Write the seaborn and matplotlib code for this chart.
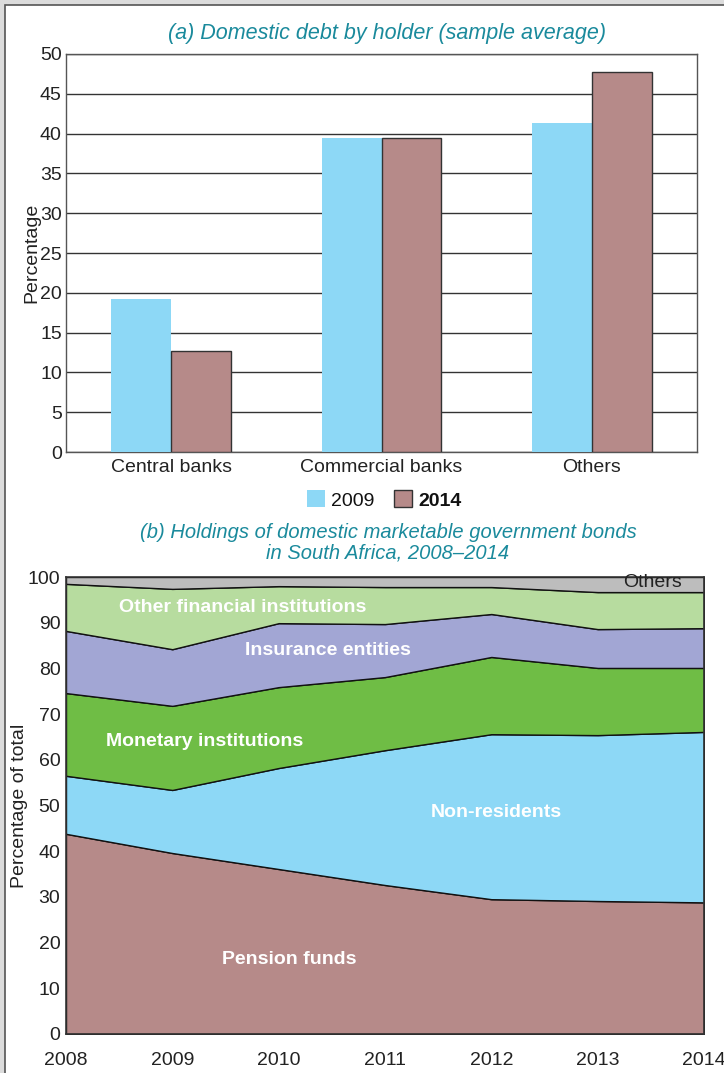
import matplotlib
matplotlib.use("Agg")
import matplotlib.pyplot as plt
from matplotlib.patches import Rectangle, Patch
import seaborn as sns
import pandas as pd

# ---- Data ----
holders = ["Central banks", "Commercial banks", "Others"]
share_2009 = [19.2, 39.4, 41.3]
share_2014 = [12.7, 39.4, 47.8]
bar_years = ["2009", "2014"]
ytick_a = [0, 5, 10, 15, 20, 25, 30, 35, 40, 45, 50]

years = [2008, 2009, 2010, 2011, 2012, 2013, 2014]
pension_funds = [43.8, 39.6, 36.1, 32.6, 29.5, 29.1, 28.8]
non_residents = [12.7, 13.8, 22.1, 29.5, 36.1, 36.3, 37.3]
monetary_inst = [18.1, 18.4, 17.7, 16.0, 16.9, 14.7, 14.0]
insurance = [13.6, 12.4, 14.0, 11.6, 9.4, 8.5, 8.7]
other_fin = [10.3, 13.2, 8.1, 8.1, 5.9, 8.1, 7.9]
others = [1.5, 2.6, 2.0, 2.2, 2.2, 3.3, 3.3]
series_names = ["Pension funds", "Non-residents", "Monetary institutions",
                "Insurance entities", "Other financial institutions", "Others"]
ytick_b = [0, 10, 20, 30, 40, 50, 60, 70, 80, 90, 100]

# ---- Style ----
sns.set_theme(style="white")
plt.rcParams["font.family"] = ["Liberation Sans", "DejaVu Sans"]

c_blue = "#8DD8F6"
c_rose = "#B68A89"
c_green = "#6FBD45"
c_lav = "#A2A6D4"
c_lgreen = "#B7DC9F"
c_grey = "#BDBDBD"
c_teal = "#1A8A9C"
c_dark = "#333333"
c_text = "#222222"
fs = 14

fig = plt.figure(figsize=(7.24, 10.73), dpi=100)
fig.patch.set_facecolor("#DCDCDC")
fig.patches.append(Rectangle((5 / 724, -0.01), 1.0, 1 - 5 / 1073 + 0.01,
                             transform=fig.transFigure, facecolor="white",
                             edgecolor="#555555", linewidth=1.2, zorder=-10))

# ---- Panel (a) ----
ax1 = fig.add_axes([66 / 724, 1 - 452 / 1073, (697 - 66) / 724, (452 - 54) / 1073])
ax1.set_zorder(1)
df = pd.DataFrame({
    "holder": holders * 2,
    "year": [bar_years[0]] * 3 + [bar_years[1]] * 3,
    "value": share_2009 + share_2014,
})
sns.barplot(data=df, x="holder", y="value", hue="year", order=holders,
            hue_order=bar_years, palette=[c_blue, c_rose], width=0.57,
            saturation=1, legend=False, ax=ax1, zorder=3)
for p in ax1.containers[0]:
    p.set_edgecolor("none")
for p in ax1.containers[1]:
    p.set_edgecolor(c_dark)
    p.set_linewidth(1.0)
ax1.set_ylim(0, 50)
ax1.set_xlim(-0.5, 2.5)
ax1.set_yticks(ytick_a)
ax1.set_yticklabels([str(t) for t in ytick_a], fontsize=fs, color=c_text)
ax1.set_xticks(range(len(holders)))
ax1.set_xticklabels(holders, fontsize=fs, color=c_text)
ax1.tick_params(axis="y", length=0, pad=3)
ax1.tick_params(axis="x", length=0, pad=5)
ax1.set_xlabel("")
ax1.set_ylabel("Percentage", fontsize=fs, color=c_text, labelpad=0)
ax1.set_axisbelow(True)
ax1.yaxis.grid(True, color=c_dark, linewidth=1.0)
ax1.xaxis.grid(False)
for s in ax1.spines.values():
    s.set_visible(True)
    s.set_color("#555555")
    s.set_linewidth(1.0)
fig.text(387 / 724, 1 - 33 / 1073, "(a) Domestic debt by holder (sample average)",
         ha="center", va="center", fontsize=15.5, style="italic", color=c_teal)

handles = [Patch(facecolor=c_blue, edgecolor="none"),
           Patch(facecolor=c_rose, edgecolor=c_dark, linewidth=1.0)]
leg = fig.legend(handles, bar_years, loc="center", bbox_to_anchor=(384 / 724, 1 - 500 / 1073),
                 ncol=2, frameon=False, fontsize=fs, handlelength=0.95, handleheight=0.95,
                 handletextpad=0.3, columnspacing=1.0)
for t in leg.get_texts():
    t.set_color("#111111")
leg.get_texts()[1].set_fontweight("bold")

# ---- Panel (b) ----
ax2 = fig.add_axes([66 / 724, 1 - 1034 / 1073, (704 - 66) / 724, (1034 - 577) / 1073])
ax2.set_zorder(1)
ax2.stackplot(years, pension_funds, non_residents, monetary_inst, insurance, other_fin, others,
              colors=[c_rose, c_blue, c_green, c_lav, c_lgreen, c_grey],
              edgecolor="#111111", linewidth=1.0, labels=series_names)
ax2.set_xlim(years[0], years[-1])
ax2.set_ylim(0, 100)
ax2.set_yticks(ytick_b)
ax2.set_yticklabels([str(t) for t in ytick_b], fontsize=fs, color=c_text)
ax2.set_xticks(years)
ax2.set_xticklabels([str(y) for y in years], fontsize=fs, color=c_text)
ax2.tick_params(axis="y", length=0, pad=4)
ax2.tick_params(axis="x", length=0, pad=13)
ax2.set_ylabel("Percentage of total", fontsize=fs, color=c_text, labelpad=0)
ax2.grid(False)
for s in ax2.spines.values():
    s.set_visible(True)
    s.set_color("#333333")
    s.set_linewidth(1.2)

fig.text(388 / 724, 1 - 532 / 1073, "(b) Holdings of domestic marketable government bonds",
         ha="center", va="center", fontsize=14.5, style="italic", color=c_teal)
fig.text(388 / 724, 1 - 553 / 1073, "in South Africa, 2008\u20132014",
         ha="center", va="center", fontsize=14.5, style="italic", color=c_teal)

lab_kw = dict(color="white", fontweight="bold", fontsize=fs, ha="center", va="center")
ax2.text(2009.66, 93.4, "Other financial institutions", **lab_kw)
ax2.text(2010.46, 84.0, "Insurance entities", **lab_kw)
ax2.text(2009.30, 63.9, "Monetary institutions", **lab_kw)
ax2.text(2012.05, 48.4, "Non-residents", **lab_kw)
ax2.text(2010.10, 16.4, "Pension funds", **lab_kw)
ax2.text(2013.52, 98.9, "Others", color=c_text, fontsize=fs, ha="center", va="center")

fig.savefig("out.png", dpi=100, facecolor=fig.get_facecolor())
